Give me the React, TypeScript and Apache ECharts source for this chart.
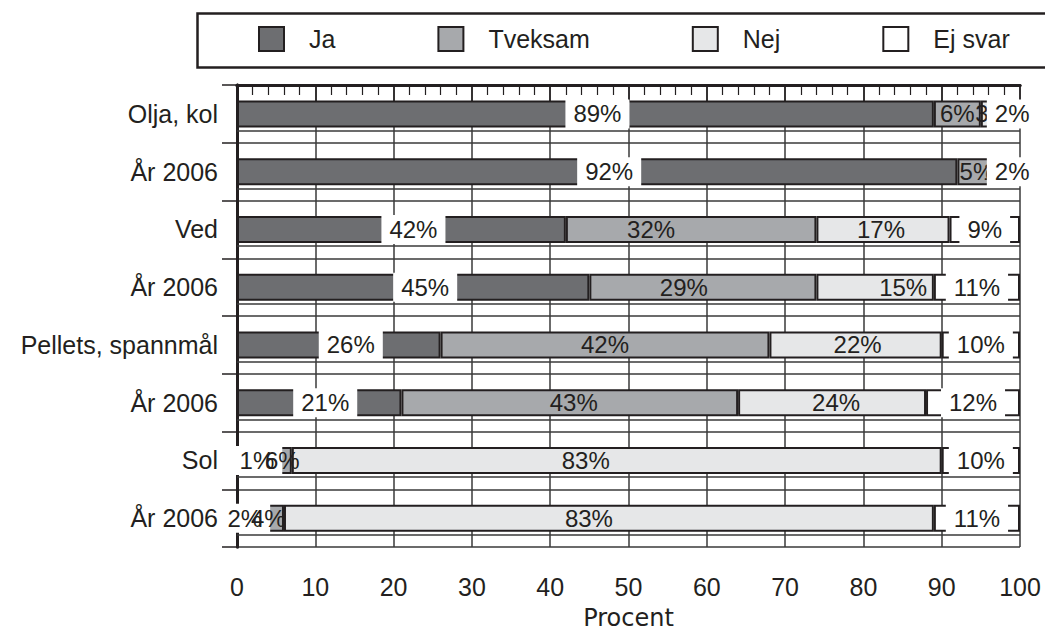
import React, { useEffect, useRef } from 'react';
import * as echarts from 'echarts';

const categories = ['Olja, kol', 'År 2006', 'Ved', 'År 2006', 'Pellets, spannmål', 'År 2006', 'Sol', 'År 2006'];
const ja = [89, 92, 42, 45, 26, 21, 1, 2];
const tveksam = [6, 5, 32, 29, 42, 43, 6, 4];
const nej = [3, 1, 17, 15, 22, 24, 83, 83];
const ejSvar = [2, 2, 9, 11, 10, 12, 10, 11];
const seriesNames = ['Ja', 'Tveksam', 'Nej', 'Ej svar'];
const seriesValues = [ja, tveksam, nej, ejSvar];
const seriesColors = ['#6d6e71', '#a7a9ac', '#e6e7e8', '#ffffff'];
const axisTitle = 'Procent';

// label horizontal nudges (styling only), per series / per category row
const labelNudge = [
  [12, 12, 12, 12, 12, 6, 16, 0],
  [0, 0, -40, -19, 0, 4, 14, 0],
  [0, 0, -2, 28, 2, 4, -31, -20],
  [0, 0, 0, 0, 0, 0, 0, 0],
];

const FONT = '"Liberation Sans", Arial, Helvetica, sans-serif';
const INK = '#231f20';
const GRID = '#3a3a3a';

export default function App() {
  const ref = useRef<HTMLDivElement>(null);
  useEffect(() => {
    if (!ref.current) return;
    const chart = echarts.init(ref.current, undefined, { renderer: 'svg' });
    const bandLines = categories.map((_, i) => ({ yAxis: i + 0.79 }));
    const option: any = {
      animation: false,
      backgroundColor: '#ffffff',
      graphic: [
        {
          type: 'rect',
          left: 195,
          top: 11,
          shape: { width: 870, height: 54 },
          style: { fill: 'none', stroke: INK, lineWidth: 2.5 },
          silent: true,
        },
      ],
      legend: {
        data: seriesNames,
        left: 195,
        top: 11,
        padding: [15, 20, 15, 63],
        itemWidth: 25,
        itemHeight: 24,
        itemGap: 102,
        icon: 'rect',
        borderWidth: 0,
        itemStyle: { borderColor: INK, borderWidth: 2 },
        textStyle: { fontSize: 25, color: INK, fontFamily: FONT, padding: [0, 0, 0, 20] },
      },
      grid: { left: 237, right: 25, top: 85, bottom: 84, containLabel: false, outerBoundsMode: 'none' },
      xAxis: [
        {
          type: 'value',
          min: 0,
          max: 100,
          interval: 10,
          position: 'bottom',
          axisLine: { show: true, lineStyle: { color: INK, width: 3 } },
          axisTick: { show: true, length: 18, lineStyle: { color: INK, width: 1.5 } },
          minorTick: { show: true, splitNumber: 5, length: 10, lineStyle: { color: INK, width: 1.2 } },
          splitLine: { show: true, lineStyle: { color: GRID, width: 1.5 } },
          axisLabel: { fontSize: 25, color: INK, margin: 27, fontFamily: FONT },
          name: axisTitle,
          nameLocation: 'middle',
          nameGap: 59,
          nameTextStyle: { fontSize: 24, color: INK, fontFamily: '"DejaVu Sans", sans-serif' },
        },
        {
          type: 'value',
          min: 0,
          max: 100,
          position: 'top',
          axisLine: { show: true, lineStyle: { color: INK, width: 3 } },
          axisTick: { show: false },
          axisLabel: { show: false },
          splitLine: { show: false },
        },
      ],
      yAxis: [
        {
          type: 'category',
          data: categories,
          inverse: true,
          axisLine: { show: true, lineStyle: { color: INK, width: 3 } },
          axisTick: { show: true, length: 15, lineStyle: { color: INK, width: 1.5 } },
          axisLabel: { fontSize: 25, color: INK, margin: 19, fontFamily: FONT },
          splitLine: { show: true, lineStyle: { color: GRID, width: 1.5 } },
        },
        {
          type: 'value',
          min: 0,
          max: 8,
          inverse: true,
          position: 'right',
          axisLine: { show: true, lineStyle: { color: INK, width: 3 } },
          axisTick: { show: false },
          axisLabel: { show: false },
          splitLine: { show: false },
        },
      ],
      series: [
        ...seriesValues.map((d, i) => ({
          name: seriesNames[i],
          type: 'bar',
          stack: 'total',
          data: d.map((v, j) => ({ value: v, label: { offset: [labelNudge[i][j], 0] } })),
          barWidth: 27,
          xAxisIndex: 0,
          yAxisIndex: 0,
          itemStyle: { color: seriesColors[i], borderColor: INK, borderWidth: 2 },
          label: {
            show: true,
            position: 'inside',
            formatter: '{c}%',
            color: INK,
            fontSize: 24,
            fontFamily: FONT,
            lineHeight: 25,
            padding: [2, 8],
            backgroundColor: i === 0 || i === 3 ? '#ffffff' : 'transparent',
          },
        })),
        {
          type: 'line',
          xAxisIndex: 0,
          yAxisIndex: 1,
          data: [],
          silent: true,
          markLine: {
            symbol: ['none', 'none'],
            silent: true,
            label: { show: false },
            lineStyle: { color: GRID, width: 1.5, type: 'solid' },
            data: bandLines,
          },
        },
      ],
    };
    chart.setOption(option);
    return () => chart.dispose();
  }, []);
  return <div ref={ref} style={{ position: 'fixed', left: 0, top: 0, width: 1045, height: 631 }} />;
}
